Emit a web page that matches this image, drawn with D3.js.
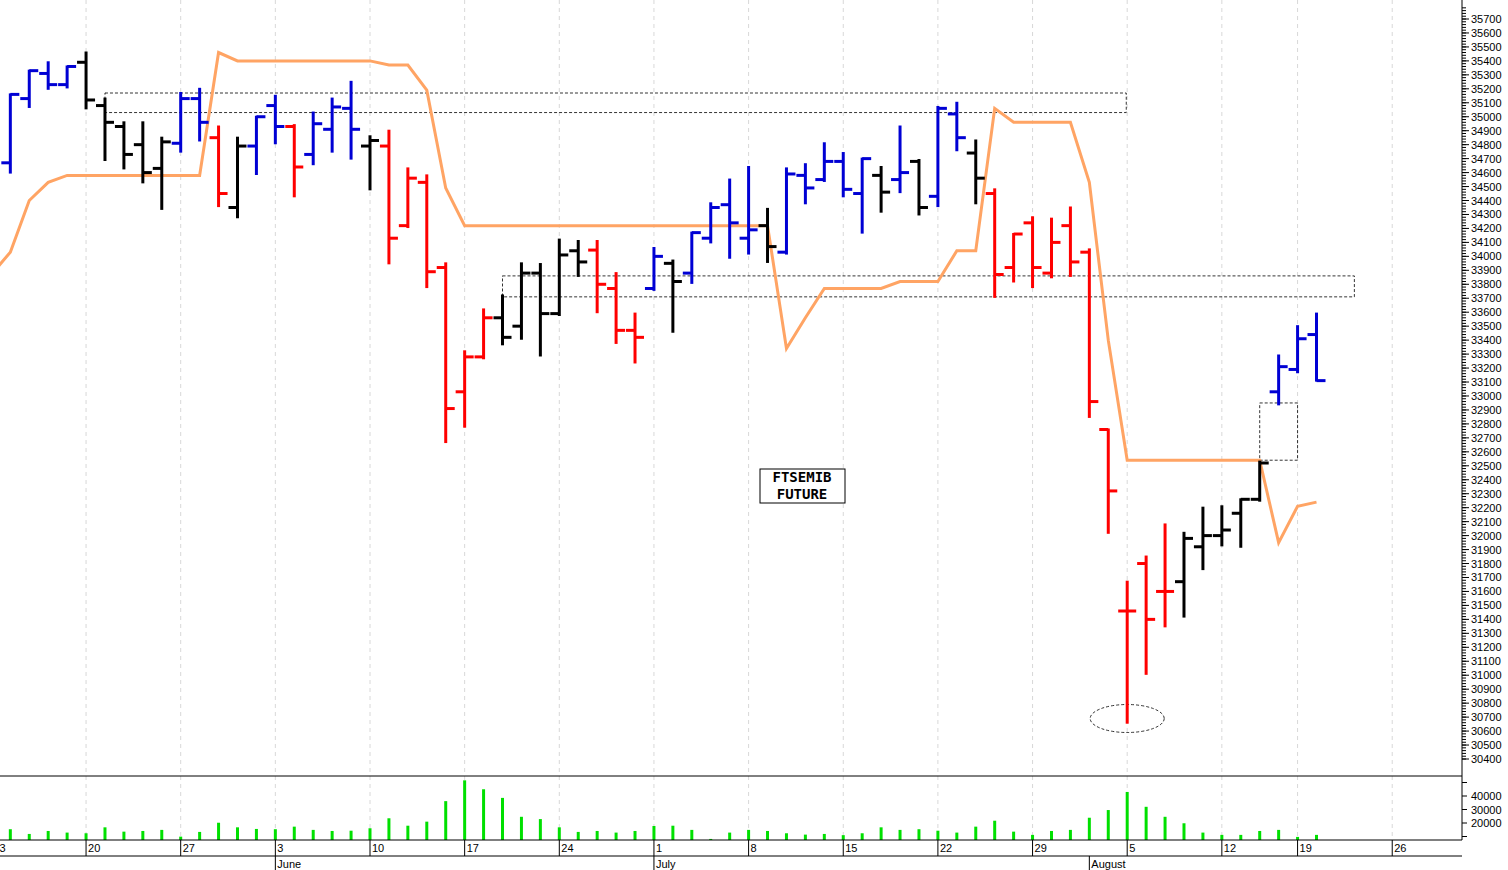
<!DOCTYPE html>
<html><head><meta charset="utf-8">
<script src="https://cdn.jsdelivr.net/npm/d3@7"></script>
<style>body{margin:0;background:#fff}svg{display:block;font-family:Arial,"Liberation Sans",sans-serif}</style>
</head><body><div id="chart"></div>
<script>
// bars: trading-day index from Mon 13 May 2024
var barIndex = d3.range(1, 71);
var opens  = [34670,35130,35310,35230,35390,35080,34930,34800,34630,34810,35130,34850,34350,34790,35080,34930,34730,34910,35060,34790,34790,34220,34530,33920,33030,33280,33560,33500,33880,33590,34040,34045,33770,33470,33770,33950,33880,34130,34370,34130,34220,34030,34580,34550,34680,34450,34580,34550,34680,34430,35020,34740,34450,33920,34240,33880,34220,34030,32760,31460,31800,31600,31670,31920,32000,32160,32260,33030,33190,33440];
var highs  = [35160,35330,35390,35360,35460,35130,34960,34960,34850,35170,35200,34930,34850,35000,35150,34940,35030,35130,35250,34860,34900,34630,34580,33950,33320,33620,33720,33950,33945,34120,34110,34110,33880,33590,34060,33970,34170,34380,34550,34640,34340,34630,34660,34810,34740,34700,34640,34930,34690,35070,35100,34830,34480,34160,34280,34270,34350,34050,32760,31670,31850,32080,32020,32200,32210,32260,32530,33290,33500,33590];
var lows   = [34600,35070,35200,35210,35060,34690,34630,34530,34340,34750,34830,34360,34280,34590,34810,34430,34660,34750,34700,34480,33950,34210,33780,32670,32780,33270,33370,33410,33290,33580,33860,33600,33380,33240,33760,33460,33810,34100,33990,34020,33960,34020,34380,34540,34430,34170,34320,34460,34300,34360,34760,34380,33710,33820,33780,33850,33860,32850,32020,30660,31010,31350,31420,31760,31930,31920,32250,32940,33170,33110];
var closes = [35160,35330,35230,35360,35120,34960,34730,34600,34820,35130,34960,34450,34790,35000,34930,34640,34950,35070,34910,34830,34130,34560,33890,32910,33280,33560,33420,33880,33590,34010,33960,33800,33470,33420,34000,33820,34170,34350,34240,34190,34070,34590,34490,34680,34480,34700,34460,34600,34350,35060,34850,34560,33870,34160,33920,34100,33960,32960,32320,31460,31400,31600,31980,32000,32040,32260,32520,33210,33410,33110];
var barColor = ["b","b","b","b","k","k","k","k","k","b","b","r","k","b","b","r","b","b","b","k","r","r","r","r","r","r","k","k","k","k","k","r","r","r","b","k","b","b","b","b","k","b","b","b","b","b","k","b","k","b","b","k","r","r","r","r","r","r","r","r","r","r","k","k","k","k","k","b","b","b"];
var volumes = [15400,11900,14100,12900,12400,16800,13600,14100,14900,9900,13400,20200,16800,15600,15400,17300,14900,14100,14300,16100,23500,18000,21000,36200,51600,45000,38600,24600,22900,16800,13400,14100,12900,14100,17800,18000,14900,8200,12900,14900,14100,12400,11400,11900,11000,12400,16800,14900,15400,14300,12900,17300,21700,13600,11200,14100,14900,23900,29600,43000,32000,24600,19800,12900,11200,11200,14100,14900,9700,11200];
// orange line, index 0..70
var lineVals = [33870,34030,34400,34530,34580,34580,34580,34580,34580,34580,34580,34580,35460,35400,35400,35400,35400,35400,35400,35400,35400,35370,35370,35190,34490,34220,34220,34220,34220,34220,34220,34220,34220,34220,34220,34220,34220,34220,34220,34220,34220,34220,33340,33560,33770,33770,33770,33770,33820,33820,33820,34040,34040,35060,34960,34960,34960,34960,34530,33400,32540,32540,32540,32540,32540,32540,32540,32540,31950,32210,32240];
var weekLabels = ["13","20","27","3","10","17","24","1","8","15","22","29","5","12","19","26"];
var weekIndex  = [0,5,10,15,20,25,30,35,40,45,50,55,60,65,69,74];
var monthLabels = ["June","July","August"];
var monthIndex  = [15,35,58];
var priceTicks = d3.range(30400, 35701, 100);
var volTicks = [20000, 30000, 40000];
// annotations: [startIndex, endIndex, priceTop, priceBottom]
var boxes = [[6,59.95,35170,35030],[27,72,33860,33710],[67,69,32950,32540]];

var W = 1508, H = 870;
var svg = d3.select("#chart").append("svg").attr("width", W).attr("height", H);
var x = d3.scaleLinear().domain([0, 1]).range([-8.6, 10.33]);
var y = d3.scaleLinear().domain([30400, 35700]).range([759, 19]);
var yv = d3.scaleLinear().domain([20000, 40000]).range([823, 796]);
var axisX = 1462;
var cols = {b: "#0000d4", k: "#000000", r: "#ff0000"};

// weekly grid
svg.append("g").selectAll("line").data(weekIndex).enter().append("line")
  .attr("x1", function(d){ return x(d); }).attr("x2", function(d){ return x(d); })
  .attr("y1", 0).attr("y2", 840)
  .attr("stroke", "#d8d8d8").attr("stroke-dasharray", "4,4");

// annotation boxes
svg.append("g").selectAll("rect").data(boxes).enter().append("rect")
  .attr("x", function(d){ return x(d[0]); }).attr("y", function(d){ return y(d[2]); })
  .attr("width", function(d){ return x(d[1]) - x(d[0]); })
  .attr("height", function(d){ return y(d[3]) - y(d[2]); })
  .attr("fill", "none").attr("stroke", "#000").attr("stroke-width", 0.8).attr("stroke-dasharray", "3,2");
svg.append("ellipse").attr("cx", x(60)).attr("cy", y(30690)).attr("rx", 37).attr("ry", 14)
  .attr("fill", "none").attr("stroke", "#000").attr("stroke-width", 0.8).attr("stroke-dasharray", "3,2");

// orange line
svg.append("path").datum(lineVals)
  .attr("d", d3.line().x(function(d, i){ return x(i); }).y(function(d){ return y(d); }))
  .attr("fill", "none").attr("stroke", "#ffa464").attr("stroke-width", 3);

// OHLC bars
var bars = svg.append("g").selectAll("g").data(barIndex).enter().append("g")
  .attr("stroke", function(d, i){ return cols[barColor[i]]; }).attr("stroke-width", 3);
bars.append("line").attr("x1", function(d){ return x(d); }).attr("x2", function(d){ return x(d); })
  .attr("y1", function(d, i){ return y(highs[i]) - 1; }).attr("y2", function(d, i){ return y(lows[i]) + 1; });
bars.append("line").attr("x1", function(d){ return x(d) - 9; }).attr("x2", function(d){ return x(d); })
  .attr("y1", function(d, i){ return y(opens[i]); }).attr("y2", function(d, i){ return y(opens[i]); });
bars.append("line").attr("x1", function(d){ return x(d); }).attr("x2", function(d){ return x(d) + 9; })
  .attr("y1", function(d, i){ return y(closes[i]); }).attr("y2", function(d, i){ return y(closes[i]); });

// label box
var lb = svg.append("g").attr("transform", "translate(802,486)");
lb.append("rect").attr("x", -42).attr("y", -17).attr("width", 85).attr("height", 34)
  .attr("fill", "#fff").attr("stroke", "#000");
lb.append("text").attr("y", -4).attr("text-anchor", "middle").attr("font-family", "'DejaVu Sans Mono',monospace")
  .attr("font-weight", "bold").attr("font-size", 14).text("FTSEMIB");
lb.append("text").attr("y", 13).attr("text-anchor", "middle").attr("font-family", "'DejaVu Sans Mono',monospace")
  .attr("font-weight", "bold").attr("font-size", 14).text("FUTURE");

// price axis
var pa = svg.append("g").attr("transform", "translate(" + axisX + ",0)");
pa.append("line").attr("y1", 0).attr("y2", 776).attr("stroke", "#000");
pa.selectAll(".mt").data(d3.range(30400, 35800, 20)).enter().append("line")
  .attr("x2", 4).attr("y1", function(d){ return y(d); }).attr("y2", function(d){ return y(d); }).attr("stroke", "#000");
pa.selectAll(".tk").data(priceTicks).enter().append("line")
  .attr("x2", 7).attr("y1", function(d){ return y(d); }).attr("y2", function(d){ return y(d); }).attr("stroke", "#000");
pa.selectAll("text").data(priceTicks).enter().append("text")
  .attr("x", 9).attr("y", function(d){ return y(d) + 4; }).attr("font-size", 11).text(function(d){ return d; });

// volume panel
svg.append("line").attr("x1", 0).attr("x2", axisX).attr("y1", 776).attr("y2", 776).attr("stroke", "#000");
svg.append("g").selectAll("line").data(barIndex).enter().append("line")
  .attr("x1", function(d){ return x(d); }).attr("x2", function(d){ return x(d); })
  .attr("y1", 840).attr("y2", function(d, i){ return yv(volumes[i]); })
  .attr("stroke", "#00e000").attr("stroke-width", 3);
var va = svg.append("g").attr("transform", "translate(" + axisX + ",0)");
va.append("line").attr("y1", 776).attr("y2", 840).attr("stroke", "#000");
va.selectAll("line.t").data([10000,20000,30000,40000,50000]).enter().append("line")
  .attr("x2", 5).attr("y1", function(d){ return yv(d); }).attr("y2", function(d){ return yv(d); }).attr("stroke", "#000");
va.selectAll("text").data(volTicks).enter().append("text")
  .attr("x", 9).attr("y", function(d){ return yv(d) + 4; }).attr("font-size", 11).text(function(d){ return d; });

// date axis
svg.append("line").attr("x1", 0).attr("x2", axisX).attr("y1", 840).attr("y2", 840).attr("stroke", "#000");
svg.append("line").attr("x1", 0).attr("x2", axisX).attr("y1", 856).attr("y2", 856).attr("stroke", "#000");
var wk = svg.append("g").selectAll("g").data(weekIndex).enter().append("g")
  .attr("transform", function(d){ return "translate(" + x(d) + ",0)"; });
wk.append("line").attr("y1", 840).attr("y2", 856).attr("stroke", "#000");
wk.append("text").attr("x", 2).attr("y", 852).attr("font-size", 11).text(function(d, i){ return weekLabels[i]; });
var mo = svg.append("g").selectAll("g").data(monthIndex).enter().append("g")
  .attr("transform", function(d){ return "translate(" + x(d) + ",0)"; });
mo.append("line").attr("y1", 856).attr("y2", 870).attr("stroke", "#000");
mo.append("text").attr("x", 2).attr("y", 868).attr("font-size", 11).text(function(d, i){ return monthLabels[i]; });
</script></body></html>
